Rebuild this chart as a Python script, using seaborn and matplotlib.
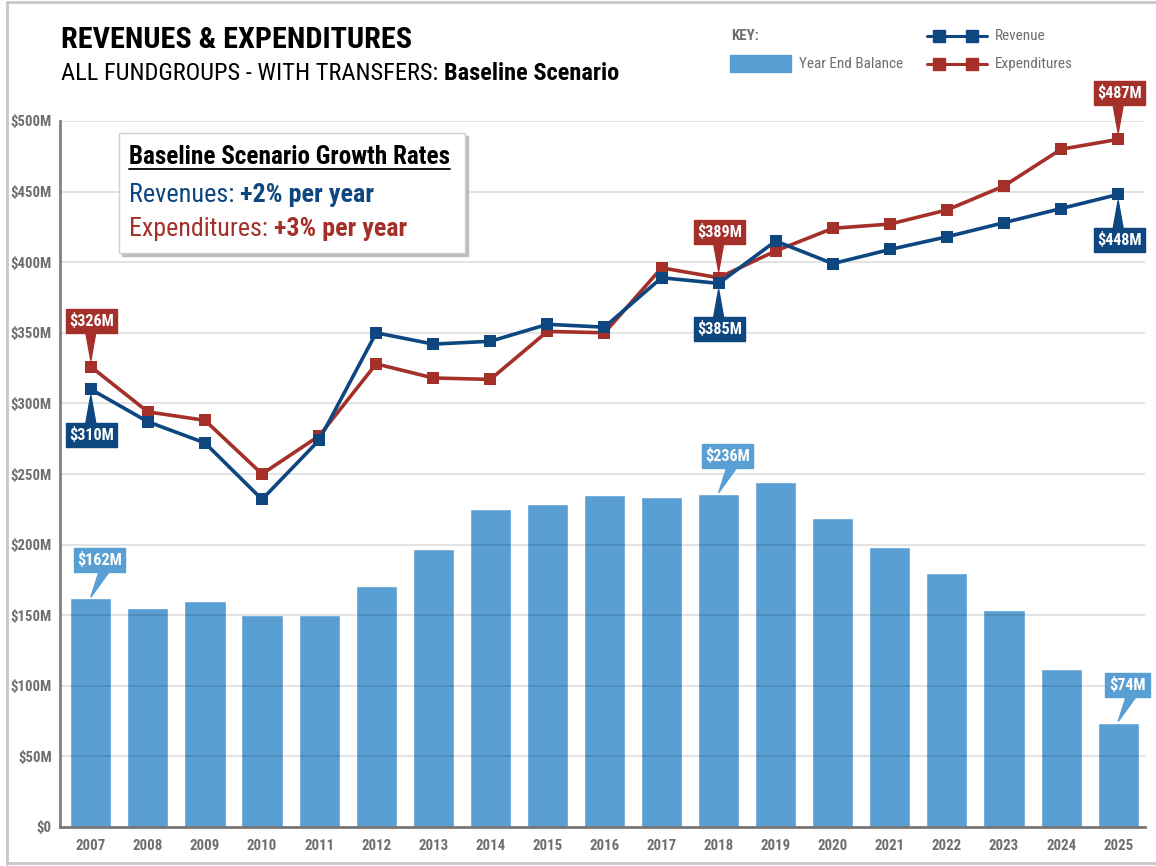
import numpy as np
import pandas as pd
import matplotlib
matplotlib.use("Agg")
import matplotlib.pyplot as plt
from matplotlib import font_manager as fm
from matplotlib.patches import Rectangle, Polygon
from matplotlib.lines import Line2D
import seaborn as sns

# data ($M)
years = ["2007", "2008", "2009", "2010", "2011", "2012", "2013", "2014", "2015", "2016",
         "2017", "2018", "2019", "2020", "2021", "2022", "2023", "2024", "2025"]
revenue = [310, 287, 272, 232, 274, 350, 342, 344, 356, 354,
           389, 385, 415, 399, 409, 418, 428, 438, 448]
expenditures = [326, 294, 288, 250, 277, 328, 318, 317, 351, 350,
                396, 389, 408, 424, 427, 437, 454, 480, 487]
balance = [162, 155, 160, 150, 150, 171, 197, 225, 229, 235,
           234, 236, 244, 219, 198, 180, 154, 112, 74]
y_ticks = [0, 50, 100, 150, 200, 250, 300, 350, 400, 450, 500]
y_tick_labels = ["$0", "$50M", "$100M", "$150M", "$200M", "$250M",
                 "$300M", "$350M", "$400M", "$450M", "$500M"]

# (series, year index, label, above?)
callouts = [
    ("expenditures", 0, "$326M", True),
    ("revenue", 0, "$310M", False),
    ("expenditures", 11, "$389M", True),
    ("revenue", 11, "$385M", False),
    ("expenditures", 18, "$487M", True),
    ("revenue", 18, "$448M", False),
    ("balance", 0, "$162M", True),
    ("balance", 11, "$236M", True),
    ("balance", 18, "$74M", True),
]

BLUE = "#0e4680"
RED = "#a5302a"
BAR = "#599fd4"
GREY = "#6e6e6e"

# pick a condensed face, the reference uses a narrow gothic
have = {f.name for f in fm.fontManager.ttflist}
FAMILY, STRETCH = "DejaVu Sans", "normal"
for cand in ["Roboto Condensed", "Barlow Semi Condensed", "Barlow Condensed", "PT Sans Narrow",
             "Archivo Narrow", "Liberation Sans Narrow", "Open Sans Condensed",
             "Noto Sans Condensed", "Encode Sans Condensed", "Fira Sans Condensed"]:
    if cand in have:
        FAMILY = cand
        break
else:
    for fam in ["Roboto", "Noto Sans", "Open Sans", "DejaVu Sans"]:
        if any(f.name == fam and f.stretch in ("condensed", "semi-condensed") for f in fm.fontManager.ttflist):
            FAMILY, STRETCH = fam, "condensed"
            break

W, H = 1156, 866
sns.set_theme(style="white")
plt.rcParams["font.family"] = [FAMILY, "DejaVu Sans"]
plt.rcParams["font.stretch"] = STRETCH

df = pd.DataFrame({"year": years, "revenue": revenue,
                   "expenditures": expenditures, "balance": balance})
df["pos"] = np.arange(len(df))

fig = plt.figure(figsize=(W / 100, H / 100), dpi=100)
rend = fig.canvas.get_renderer()


def fx(x, y):
    return x / W, 1 - y / H


def fit(t, width):
    # scale a text so its rendered width matches the reference
    w = t.get_window_extent(rend).width
    t.set_fontsize(t.get_fontsize() * width / w)
    return t


def after(t):
    return t.get_window_extent(rend).x1 / W


ax = fig.add_axes([60 / W, 1 - 827 / H, (1145 - 60) / W, (827 - 121) / H])

sns.barplot(data=df, x="pos", y="balance", color=BAR, saturation=1,
            width=0.72, ax=ax, zorder=1)
sns.lineplot(data=df, x="pos", y="expenditures", color=RED, linewidth=2.6,
             marker="s", markersize=8, markeredgewidth=0, ax=ax, zorder=3)
sns.lineplot(data=df, x="pos", y="revenue", color=BLUE, linewidth=2.6,
             marker="s", markersize=8, markeredgewidth=0, ax=ax, zorder=4)

ax.set_xlim(-0.54, len(years) - 1 + 0.47)
ax.set_ylim(0, 500)
ax.set_yticks(y_ticks)
ax.set_yticklabels(y_tick_labels)
ax.set_xticks(df["pos"])
ax.set_xticklabels(years)
ax.set_xlabel("")
ax.set_ylabel("")
ax.tick_params(axis="both", length=0, colors=GREY)
ax.tick_params(axis="y", pad=6)
ax.tick_params(axis="x", pad=9)
for lab in ax.get_xticklabels() + ax.get_yticklabels():
    lab.set_fontweight("bold")
fig.canvas.draw()
ys = ax.get_yticklabels()[-1].get_window_extent(rend).width
xs = ax.get_xticklabels()[0].get_window_extent(rend).width
ysize = ax.get_yticklabels()[-1].get_fontsize() * 41 / ys
xsize = ax.get_xticklabels()[0].get_fontsize() * 30 / xs
ax.tick_params(axis="y", labelsize=ysize)
ax.tick_params(axis="x", labelsize=xsize)

ax.set_axisbelow(False)
ax.grid(axis="y", color="black", alpha=0.13, linewidth=1.2, zorder=2)
ax.grid(axis="x", visible=False)
for s in ["top", "right"]:
    ax.spines[s].set_visible(False)
ax.spines["left"].set_color("#808080")
ax.spines["left"].set_linewidth(2)
ax.spines["bottom"].set_color("#777777")
ax.spines["bottom"].set_linewidth(2)
ax.spines["left"].set_zorder(5)
ax.spines["bottom"].set_zorder(5)

# outer frame
fig.add_artist(Line2D([7 / W, 7 / W], [1 - 2 / H, 1 - 864 / H], color="#c8c8c8", lw=2))
fig.add_artist(Line2D([7 / W, 1], [1 - 2 / H, 1 - 2 / H], color="#c8c8c8", lw=2))
fig.add_artist(Line2D([7 / W, 1], [1 - 863 / H, 1 - 863 / H], color="#c8c8c8", lw=2))

# title
t = fig.text(*fx(61, 40), "REVENUES & EXPENDITURES", fontsize=23, fontweight="bold",
             color="black", va="center", ha="left")
fit(t, 352)
t1 = fig.text(*fx(61, 74), "ALL FUNDGROUPS - WITH TRANSFERS: ", fontsize=17.5,
              color="black", va="center", ha="left")
t2 = fig.text(0, 1 - 74 / H, "Baseline Scenario", fontsize=17.5, fontweight="bold",
              color="black", va="center", ha="left")
tot = t1.get_window_extent(rend).width + t2.get_window_extent(rend).width
sc = 556 / tot
t1.set_fontsize(17.5 * sc)
t2.set_fontsize(17.5 * sc)
t2.set_x(after(t1))

# key
fit(fig.text(*fx(731, 36), "KEY:", fontsize=11, fontweight="bold", color=GREY, va="center"), 28)
fig.add_artist(Rectangle(fx(730, 72), 61 / W, 17 / H, color=BAR))
t = fit(fig.text(*fx(799, 64), "Year End Balance", fontsize=11.5, color=GREY, va="center"), 104)
kfs = t.get_fontsize()
for yy, col, name in [(36, BLUE, "Revenue"), (64, RED, "Expenditures")]:
    fig.add_artist(Line2D([927 / W, 987 / W], [1 - yy / H] * 2, color=col, lw=2.2))
    fig.add_artist(Line2D([939 / W, 972 / W], [1 - yy / H] * 2, color=col, lw=0,
                          marker="s", markersize=8))
    fig.text(*fx(995, yy), name, fontsize=kfs, color=GREY, va="center")

# growth rates box
fig.add_artist(Rectangle(fx(122, 256), 346 / W, 120 / H, color="#bdbdbd", zorder=6))
fig.add_artist(Rectangle(fx(119, 253), 346 / W, 120 / H, facecolor="white",
                         edgecolor="#cfcfcf", lw=1, zorder=7))
t = fig.text(*fx(129, 157), "Baseline Scenario Growth Rates", fontsize=17.5, fontweight="bold",
             color="black", va="center", zorder=8)
fit(t, 321)
fig.add_artist(Line2D([129 / W, 450 / W], [1 - 169 / H] * 2, color="black", lw=1.3, zorder=8))
for yy, col, a, b, wd in [(195, BLUE, "Revenues: ", "+2% per year", 246),
                          (229, RED, "Expenditures: ", "+3% per year", 278)]:
    ta = fig.text(*fx(129, yy), a, fontsize=18, color=col, va="center", zorder=8)
    tb = fig.text(0, 1 - yy / H, b, fontsize=18, fontweight="bold", color=col,
                  va="center", zorder=8)
    tot = ta.get_window_extent(rend).width + tb.get_window_extent(rend).width
    ta.set_fontsize(18 * wd / tot)
    tb.set_fontsize(18 * wd / tot)
    tb.set_x(after(ta))

# callouts
fig.canvas.draw()
colmap = {"revenue": BLUE, "expenditures": RED, "balance": BAR}
cfs = None
for series, i, label, above in callouts:
    px, py = ax.transData.transform((df["pos"][i], df[series][i]))
    py = H - py
    col = colmap[series]
    bw, bh = 51, 24
    if series == "balance":
        cx, cy = px + 9, py - 38
        tri = [(px, py - 1), (cx - 1, cy + bh / 2), (cx + 9, cy + bh / 2)]
    elif above:
        cx, cy = px + 1, py - 46
        tri = [(px, py - 6), (px - 5, cy + bh / 2), (px + 5, cy + bh / 2)]
    else:
        cx, cy = px + 1, py + 46
        tri = [(px, py + 6), (px - 5, cy - bh / 2), (px + 5, cy - bh / 2)]
    if label == "$74M":
        bw = 45
    fig.add_artist(Polygon([fx(x, y) for x, y in tri], closed=True, color=col, zorder=9))
    fig.add_artist(Rectangle(fx(cx - bw / 2, cy + bh / 2), bw / W, bh / H, color=col, zorder=9))
    t = fig.text(*fx(cx, cy), label, fontsize=12.5, fontweight="bold", color="white",
                 ha="center", va="center", zorder=10)
    if cfs is None:
        fit(t, 45)
        cfs = t.get_fontsize()
    t.set_fontsize(cfs)

fig.savefig("out.png", dpi=100)
